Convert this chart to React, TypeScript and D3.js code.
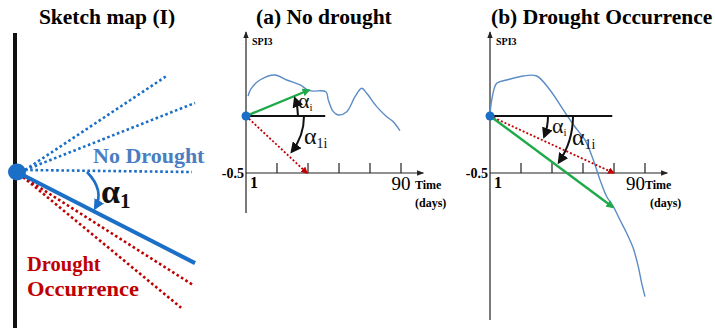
import React from 'react';
import * as d3 from 'd3';

const W = 715;
const H = 328;

// Sketch map (I): ray angles (deg, counter-clockwise from horizontal) and lengths
const noDroughtAngles = [32.7, 21.2, 0];
const noDroughtLengths = [179, 191, 175];
const alpha1Angle = -27.1;
const alpha1Length = 200;
const droughtAngles = [-32.7, -39.6];
const droughtLengths = [209, 213];

// (a) No drought: SPI3 over days
const daysA = [1.2, 2.7, 8.1, 16.8, 23.6, 31.4, 36.8, 46.4, 47.8, 50.7, 53.6, 58.5, 63.3, 67.2, 70.1, 75.9, 81.7, 85.5, 89.4];
const spiA = [0.175, 0.234, 0.316, 0.36, 0.316, 0.272, 0.222, 0.213, 0.14, 0.038, 0.009, 0.038, 0.169, 0.243, 0.199, 0.082, -0.006, -0.05, -0.129];

// (b) Drought occurrence: SPI3 over days
const daysB = [0, 1.0, 3.9, 9.7, 19.3, 27.1, 34.8, 42.6, 49.3, 55.2, 60.0, 63.9, 67.8, 71.6, 75.5, 79.4, 83.2, 86.1, 88.1, 90.0];
const spiB = [0.009, 0.14, 0.287, 0.316, 0.351, 0.351, 0.228, 0.053, -0.094, -0.211, -0.386, -0.561, -0.708, -0.795, -0.912, -1.029, -1.161, -1.322, -1.468, -1.585];

const tickDays = [18, 36, 54, 72, 90];

// slope lines: [endDay, endSpi]
const greenA = [36.6, 0.228];
const redA = [35.4, -0.5];
const flatA = 46;
const greenB = [71.4, -0.8];
const redB = [71.8, -0.5];
const flatB = 71;

const SERIF = '"Liberation Serif", "Times New Roman", serif';
const BLUE = '#1c6fc6';
const RED = '#c00000';
const GREEN = '#1faa4a';
const CURVE = '#5b8cc4';

const Markers = () => (
  <defs>
    <marker id="arrBlack" viewBox="0 0 10 10" refX="8" refY="5" markerWidth="11" markerHeight="11" markerUnits="userSpaceOnUse" orient="auto">
      <path d="M0,0 L10,5 L0,10 z" fill="#111" />
    </marker>
    <marker id="arrBlue" viewBox="0 0 10 10" refX="8" refY="5" markerWidth="11" markerHeight="11" markerUnits="userSpaceOnUse" orient="auto">
      <path d="M0,0 L10,5 L0,10 z" fill={BLUE} />
    </marker>
    <marker id="arrGreen" viewBox="0 0 10 10" refX="8" refY="5" markerWidth="8" markerHeight="8" markerUnits="userSpaceOnUse" orient="auto">
      <path d="M0,0 L10,5 L0,10 z" fill={GREEN} />
    </marker>
    <marker id="arrRed" viewBox="0 0 10 10" refX="8" refY="5" markerWidth="7" markerHeight="7" markerUnits="userSpaceOnUse" orient="auto">
      <path d="M0,0 L10,5 L0,10 z" fill={RED} />
    </marker>
    <marker id="arrAxis" viewBox="0 0 10 10" refX="9" refY="5" markerWidth="7" markerHeight="7" markerUnits="userSpaceOnUse" orient="auto">
      <path d="M0,1 L10,5 L0,9 z" fill="#222" />
    </marker>
  </defs>
);

const SketchMap = () => {
  const cx = 17;
  const cy = 172;
  const rad = (deg: number) => (deg * Math.PI) / 180;
  const end = (deg: number, len: number) => [cx + len * Math.cos(rad(deg)), cy - len * Math.sin(rad(deg))];
  const p = d3.path();
  const s = end(0, 70);
  const c = end(-12, 90);
  const e = end(-25, 86);
  p.moveTo(s[0], s[1]);
  p.quadraticCurveTo(c[0], c[1], e[0], e[1]);
  const a1 = end(alpha1Angle, alpha1Length);
  return (
    <g>
      <text x={107} y={24} textAnchor="middle" fontFamily={SERIF} fontWeight="bold" fontSize={21.5}>Sketch map (I)</text>
      <line x1={15} y1={33} x2={15} y2={H} stroke="#111" strokeWidth={4} />
      {noDroughtAngles.map((a, i) => {
        const [x, y] = end(a, noDroughtLengths[i]);
        return <line key={'n' + i} x1={cx + 8} y1={cy - 2} x2={x} y2={y} stroke={BLUE} strokeWidth={2.6} strokeDasharray="2.6 2.6" />;
      })}
      {droughtAngles.map((a, i) => {
        const [x, y] = end(a, droughtLengths[i]);
        return <line key={'d' + i} x1={cx + 6} y1={cy + 5} x2={x} y2={y} stroke={RED} strokeWidth={2.6} strokeDasharray="2.6 2.6" />;
      })}
      <line x1={cx} y1={cy} x2={a1[0]} y2={a1[1]} stroke={BLUE} strokeWidth={4} />
      <ellipse cx={cx} cy={cy} rx={9} ry={8.5} fill={BLUE} />
      <path d={p.toString()} fill="none" stroke={BLUE} strokeWidth={2.6} markerEnd="url(#arrBlue)" />
      <text x={93} y={163} fontFamily={SERIF} fontWeight="bold" fontSize={22} fill="#4a7ec0">No Drought</text>
      <text x={101} y={203} fontFamily={SERIF} fontWeight="bold" fontSize={34} fill="#111">
        α<tspan fontSize={21} dy={5}>1</tspan>
      </text>
      <text x={27} y={271} fontFamily={SERIF} fontWeight="bold" fontSize={20.5} fill={RED}>Drought</text>
      <text x={27} y={296} fontFamily={SERIF} fontWeight="bold" fontSize={20.5} fill={RED} textLength={112} lengthAdjust="spacingAndGlyphs">Occurrence</text>
    </g>
  );
};

type PanelProps = {
  x0: number;
  yBottom: number;
  title: string;
  titleX: number;
  days: number[];
  spi: number[];
  green: number[];
  red: number[];
  flat: number;
  nineAnchor: 'middle' | 'end';
  timeDx: number;
  daysDx: number;
  arcI: { r: number; a: number; up: boolean; tx: number; ty: number };
  arc1i: { r: number; a: number; tx: number; ty: number };
};

const Panel = ({ x0, yBottom, title, titleX, days, spi, green, red, flat, nineAnchor, timeDx, daysDx, arcI, arc1i }: PanelProps) => {
  const x = d3.scaleLinear().domain([0, 90]).range([x0, x0 + 155]);
  const y = d3.scaleLinear().domain([0, -0.5]).range([116, 173]);
  const ox = x(0);
  const oy = y(0);
  const curve = d3
    .line<number>()
    .x((d, i) => x(days[i]))
    .y((d) => y(d))
    .curve(d3.curveCatmullRom)(spi);

  const arcPath = (r: number, deg: number, up: boolean) => {
    const p = d3.path();
    p.moveTo(ox + r, oy);
    p.arc(ox, oy, r, 0, ((up ? -1 : 1) * deg * Math.PI) / 180, up);
    return p.toString();
  };

  return (
    <g>
      <text x={titleX} y={24} fontFamily={SERIF} fontWeight="bold" fontSize={21.5}>{title}</text>
      {/* axes */}
      <line x1={ox} y1={yBottom} x2={ox} y2={32} stroke="#222" strokeWidth={1.2} markerEnd="url(#arrAxis)" />
      <line x1={ox} y1={y(-0.5)} x2={x(103)} y2={y(-0.5)} stroke="#222" strokeWidth={1.2} markerEnd="url(#arrAxis)" />
      {tickDays.map((t) => (
        <line key={t} x1={x(t)} x2={x(t)} y1={y(-0.5)} y2={y(-0.5) - 10} stroke="#222" strokeWidth={1.2} />
      ))}
      <text x={ox + 6} y={45} fontFamily={SERIF} fontWeight="bold" fontSize={10}>SPI3</text>
      <text x={ox - 2} y={y(-0.5) + 5} textAnchor="end" fontFamily={SERIF} fontWeight="bold" fontSize={14}>-0.5</text>
      <text x={ox + 4} y={188} fontFamily={SERIF} fontWeight="bold" fontSize={16}>1</text>
      <text x={x(90)} y={190} textAnchor={nineAnchor} fontFamily={SERIF} fontSize={19}>90</text>
      <text x={x(90) + timeDx} y={189} fontFamily={SERIF} fontWeight="bold" fontSize={12}>Time</text>
      <text x={x(90) + daysDx} y={207} fontFamily={SERIF} fontWeight="bold" fontSize={12}>(days)</text>
      {/* series */}
      <path d={curve || ''} fill="none" stroke={CURVE} strokeWidth={1.4} />
      <line x1={ox} y1={oy} x2={x(flat)} y2={oy} stroke="#111" strokeWidth={2} />
      <line x1={ox} y1={oy} x2={x(red[0])} y2={y(red[1])} stroke={RED} strokeWidth={1.8} strokeDasharray="2 2" markerEnd="url(#arrRed)" />
      <line x1={ox} y1={oy} x2={x(green[0])} y2={y(green[1])} stroke={GREEN} strokeWidth={2.4} markerEnd="url(#arrGreen)" />
      <circle cx={ox} cy={oy} r={4.5} fill={BLUE} />
      {/* angle arcs */}
      <path d={arcPath(arcI.r, arcI.a, arcI.up)} fill="none" stroke="#111" strokeWidth={2} markerEnd="url(#arrBlack)" />
      <path d={arcPath(arc1i.r, arc1i.a, false)} fill="none" stroke="#111" strokeWidth={2} markerEnd="url(#arrBlack)" />
      <text x={arcI.tx} y={arcI.ty} fontFamily={SERIF} fontSize={22} fill="#111">
        α<tspan fontSize={11} dy={3}>i</tspan>
      </text>
      <text x={arc1i.tx} y={arc1i.ty} fontFamily={SERIF} fontSize={24} fill="#111">
        α<tspan fontSize={14} dy={4}>1i</tspan>
      </text>
    </g>
  );
};

export default function App() {
  return (
    <svg width={W} height={H} style={{ position: 'absolute', left: 0, top: 0, background: '#fff' }}>
      <Markers />
      <SketchMap />
      <Panel
        x0={246}
        yBottom={213}
        title="(a) No drought"
        titleX={256}
        days={daysA}
        spi={spiA}
        green={greenA}
        red={redA}
        flat={flatA}
        nineAnchor="middle"
        timeDx={14}
        daysDx={14}
        arcI={{ r: 52, a: 20, up: true, tx: 298, ty: 108 }}
        arc1i={{ r: 58, a: 38, tx: 304, ty: 144 }}
      />
      <Panel
        x0={490}
        yBottom={320}
        title="(b) Drought Occurrence"
        titleX={491}
        days={daysB}
        spi={spiB}
        green={greenB}
        red={redB}
        flat={flatB}
        nineAnchor="end"
        timeDx={0}
        daysDx={5}
        arcI={{ r: 58, a: 21, up: false, tx: 552, ty: 133 }}
        arc1i={{ r: 83, a: 34, tx: 572, ty: 145 }}
      />
    </svg>
  );
}
